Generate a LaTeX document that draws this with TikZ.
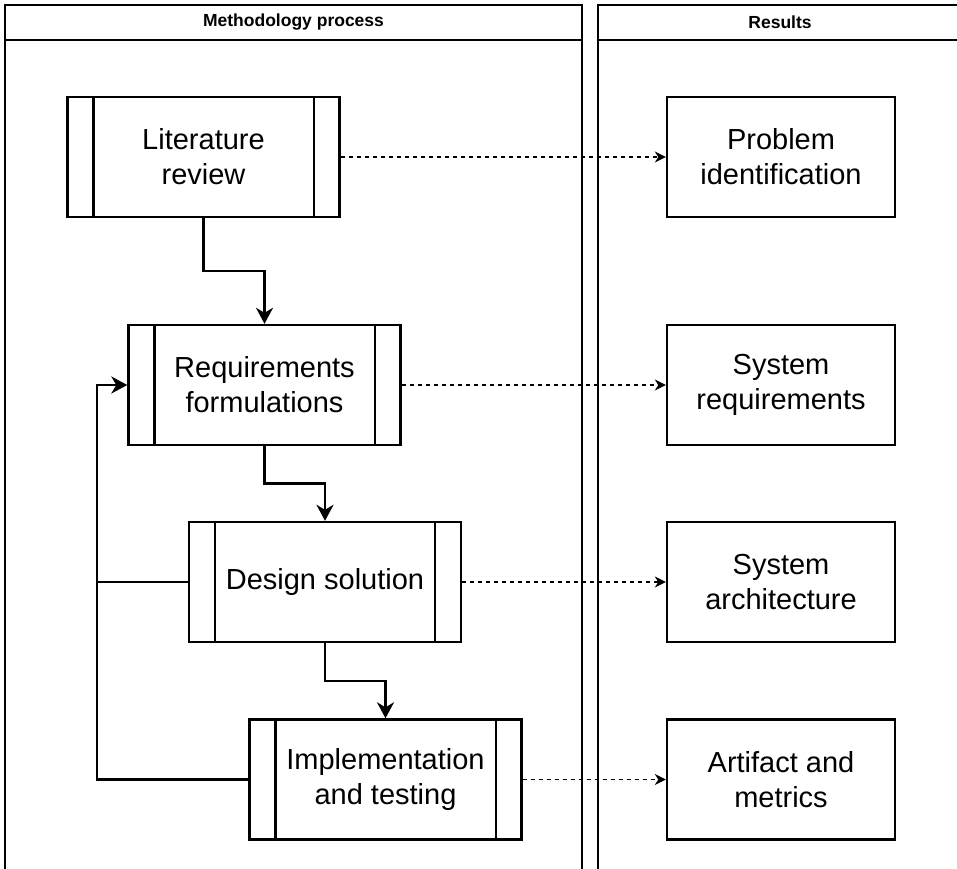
\documentclass[tikz,border=0pt]{standalone}
\usepackage{fontspec}
\setmainfont{Liberation Sans}
\usetikzlibrary{arrows.meta,calc}
\begin{document}
\begin{tikzpicture}[x=1pt,y=-1pt,
  procbox/.style={draw, line width=2.4pt, minimum width=272pt, minimum height=120pt, inner sep=0pt, align=center, font=\fontsize{29}{35}\selectfont},
  resbox/.style={procbox, minimum width=228pt},
  pool/.style={draw, line width=1.4pt},
  head/.style={font=\bfseries\fontsize{17.5}{20}\selectfont, inner sep=0pt},
  flow/.style={line width=2.2pt, -{Stealth[length=16pt,width=17pt,inset=5pt]}},
  plain/.style={line width=2.2pt},
  link/.style={line width=1.2pt, dash pattern=on 4pt off 4pt, -{Stealth[length=11pt,width=11pt,inset=3.5pt]}},
  inner/.style={line width=2.4pt}]
\clip (0,0) rectangle (957,868);
% pools
\draw[pool] (5,5) rectangle (582,880);
\draw[pool] (5,40) -- (582,40);
\draw[pool] (598,5) rectangle (962,880);
\draw[pool] (598,40) -- (962,40);
\node[head] (h1) at (293.5,22.5) {Methodology process};
\node[head] (h2) at (780,22.5) {Results};
% process boxes
\node[procbox] (lit) at (203.5,157) {Literature\\review};
\node[procbox] (req) at (264.5,385) {Requirements\\formulations};
\node[procbox] (des) at (325,582) {Design solution};
\node[procbox] (imp) at (385.5,779.5) {Implementation\\and testing};
\foreach \n in {lit,req,des,imp}{
  \draw[inner] ([xshift=27pt]\n.north west) -- ([xshift=27pt]\n.south west);
  \draw[inner] ([xshift=-27pt]\n.north east) -- ([xshift=-27pt]\n.south east);
}
% result boxes
\node[resbox] (pi) at (781,157) {Problem\\identification};
\node[resbox] (sr) at (781,385) {System\\requirements};
\node[resbox] (sa) at (781,582) {System\\architecture};
\node[resbox] (am) at (781,779.5) {Artifact and\\metrics};
% flow
\draw[flow] (lit.south) |- ($(lit.south)!.5!(req.north)$) -| (req.north);
\draw[flow] (req.south) |- ($(req.south)!.5!(des.north)$) -| (des.north);
\draw[flow] (des.south) |- ($(des.south)!.5!(imp.north)$) -| (imp.north);
% feedback
\coordinate (fb) at (97,0);
\draw[plain] (des.west) -- (des.west -| fb);
\draw[flow] (imp.west) -- (imp.west -| fb) |- (req.west);
% results links
\draw[link] (lit.east) -- (pi.west);
\draw[link] (req.east) -- (sr.west);
\draw[link] (des.east) -- (sa.west);
\draw[link] (imp.east) -- (am.west);
\end{tikzpicture}
\end{document}
